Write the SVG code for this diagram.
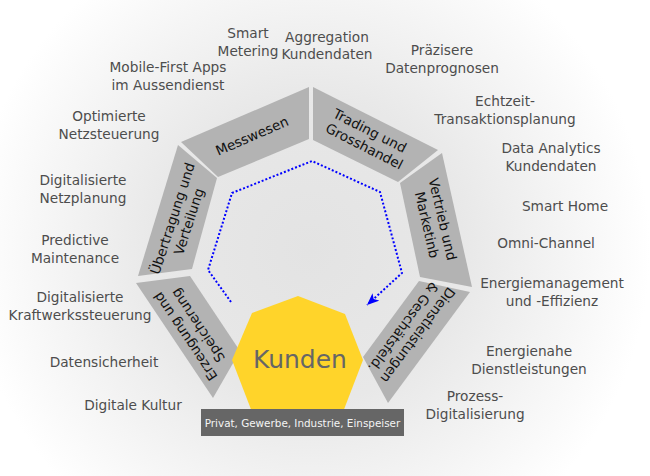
<svg xmlns="http://www.w3.org/2000/svg" width="650" height="476" viewBox="0 0 650 476">
  <defs>
    <radialGradient id="bgGrad" gradientUnits="userSpaceOnUse" cx="310" cy="250" r="340">
      <stop offset="0" stop-color="#e3e3e3"/>
      <stop offset="0.45" stop-color="#e8e8e8"/>
      <stop offset="1" stop-color="#ffffff"/>
    </radialGradient>
    <marker id="arrowBlue" markerUnits="userSpaceOnUse" markerWidth="14" markerHeight="12" refX="12" refY="5" orient="auto">
      <path d="M0,0 L12,5 L0,10 L3,5 z" fill="#0000ff"/>
    </marker>
    <style>
      .seg { fill: #b3b3b3; }
      .segtxt { font-family: "DejaVu Sans", Verdana, sans-serif; font-size: 13.6px; fill: #111111; text-anchor: middle; }
      .lbl { font-family: "DejaVu Sans", Verdana, sans-serif; font-size: 13.7px; fill: #4d4d4d; text-anchor: middle; }
      .flow { fill: none; stroke: #0000ff; stroke-width: 2; stroke-dasharray: 2 2; }
    </style>
  </defs>

  <!-- background -->
  <rect x="0" y="0" width="650" height="476" fill="url(#bgGrad)"/>

  <!-- ring segments -->
  <g id="messwesen">
    <polygon class="seg" points="181,142 309,87 309,139 218,177"/>
    <text class="segtxt" transform="translate(252,136) rotate(-23.5)" y="4.7">Messwesen</text>
  </g>
  <g id="trading">
    <polygon class="seg" points="313,87 438,150 398,182 313,140"/>
    <text class="segtxt" transform="translate(368,139) rotate(27)">
      <tspan x="0" y="-3.5">Trading und</tspan>
      <tspan x="0" y="13">Grosshandel</tspan>
    </text>
  </g>
  <g id="vertrieb">
    <polygon class="seg" points="442,153 472,287 420,277 400,183"/>
    <text class="segtxt" transform="translate(435,223) rotate(77)">
      <tspan x="0" y="-3.5">Vertrieb und</tspan>
      <tspan x="0" y="13">Marketinb</tspan>
    </text>
  </g>
  <g id="dienstleistungen">
    <polygon class="seg" points="419,281 470,292 388,403 363,357"/>
    <text class="segtxt" transform="translate(410,332) rotate(126.5)">
      <tspan x="0" y="-3.5">Dienstleistungen</tspan>
      <tspan x="0" y="13">&amp; Geschätsfeld.</tspan>
    </text>
  </g>
  <g id="erzeugung">
    <polygon class="seg" points="136,283 190,276 240,351 213,398"/>
    <text class="segtxt" transform="translate(191,330) rotate(-123.8)">
      <tspan x="0" y="-3.5">Erzeugung und</tspan>
      <tspan x="0" y="13">Speicherung</tspan>
    </text>
  </g>
  <g id="uebertragung">
    <polygon class="seg" points="178,145 217,178 192,269 138,276"/>
    <text class="segtxt" transform="translate(181,219) rotate(-72)">
      <tspan x="0" y="-3.5">Übertragung und</tspan>
      <tspan x="0" y="13">Verteilung</tspan>
    </text>
  </g>

  <!-- connectors -->
  <g id="connectors">
    <path class="flow" d="M231,302 L208,270 L232,193 L312,161 L380,192 L402,273 L367,305" marker-end="url(#arrowBlue)"/>
  </g>

  <!-- centre node -->
  <g id="kunden">
    <polygon fill="#ffd42a" points="298,296 345,314 363,360 343,412 252,412 232,360 252,313"/>
    <text x="300" y="367.5" font-family="DejaVu Sans, Verdana, sans-serif" font-size="25" fill="#666666" text-anchor="middle">Kunden</text>
  </g>
  <g id="kundengruppen">
    <rect x="201" y="409" width="203" height="27" fill="#666666"/>
    <text x="302.5" y="426.5" font-family="DejaVu Sans, Verdana, sans-serif" font-size="10.4" fill="#f4f4f4" text-anchor="middle">Privat, Gewerbe, Industrie, Einspeiser</text>
  </g>

  <!-- outer topic labels -->
  <g id="labels">
    <text class="lbl" x="248" y="38"><tspan x="248">Smart</tspan><tspan x="248" dy="18">Metering</tspan></text>
    <text class="lbl" x="327" y="42"><tspan x="327">Aggregation</tspan><tspan x="327" dy="17">Kundendaten</tspan></text>
    <text class="lbl" x="442" y="55"><tspan x="442">Präzisere</tspan><tspan x="442" dy="18">Datenprognosen</tspan></text>
    <text class="lbl" x="168" y="72"><tspan x="168">Mobile-First Apps</tspan><tspan x="168" dy="18">im Aussendienst</tspan></text>
    <text class="lbl" x="505" y="106"><tspan x="505">Echtzeit-</tspan><tspan x="505" dy="18">Transaktionsplanung</tspan></text>
    <text class="lbl" x="109" y="121"><tspan x="109">Optimierte</tspan><tspan x="109" dy="18">Netzsteuerung</tspan></text>
    <text class="lbl" x="551" y="153"><tspan x="551">Data Analytics</tspan><tspan x="551" dy="18">Kundendaten</tspan></text>
    <text class="lbl" x="83" y="185"><tspan x="83">Digitalisierte</tspan><tspan x="83" dy="18">Netzplanung</tspan></text>
    <text class="lbl" x="565" y="211">Smart Home</text>
    <text class="lbl" x="546" y="248">Omni-Channel</text>
    <text class="lbl" x="75" y="245"><tspan x="75">Predictive</tspan><tspan x="75" dy="18">Maintenance</tspan></text>
    <text class="lbl" x="552" y="288"><tspan x="552">Energiemanagement</tspan><tspan x="552" dy="18">und -Effizienz</tspan></text>
    <text class="lbl" x="80" y="302"><tspan x="80">Digitalisierte</tspan><tspan x="80" dy="18">Kraftwerkssteuerung</tspan></text>
    <text class="lbl" x="104" y="367">Datensicherheit</text>
    <text class="lbl" x="529" y="356"><tspan x="529">Energienahe</tspan><tspan x="529" dy="18">Dienstleistungen</tspan></text>
    <text class="lbl" x="133" y="410">Digitale Kultur</text>
    <text class="lbl" x="475" y="401"><tspan x="475">Prozess-</tspan><tspan x="475" dy="18">Digitalisierung</tspan></text>
  </g>
</svg>
